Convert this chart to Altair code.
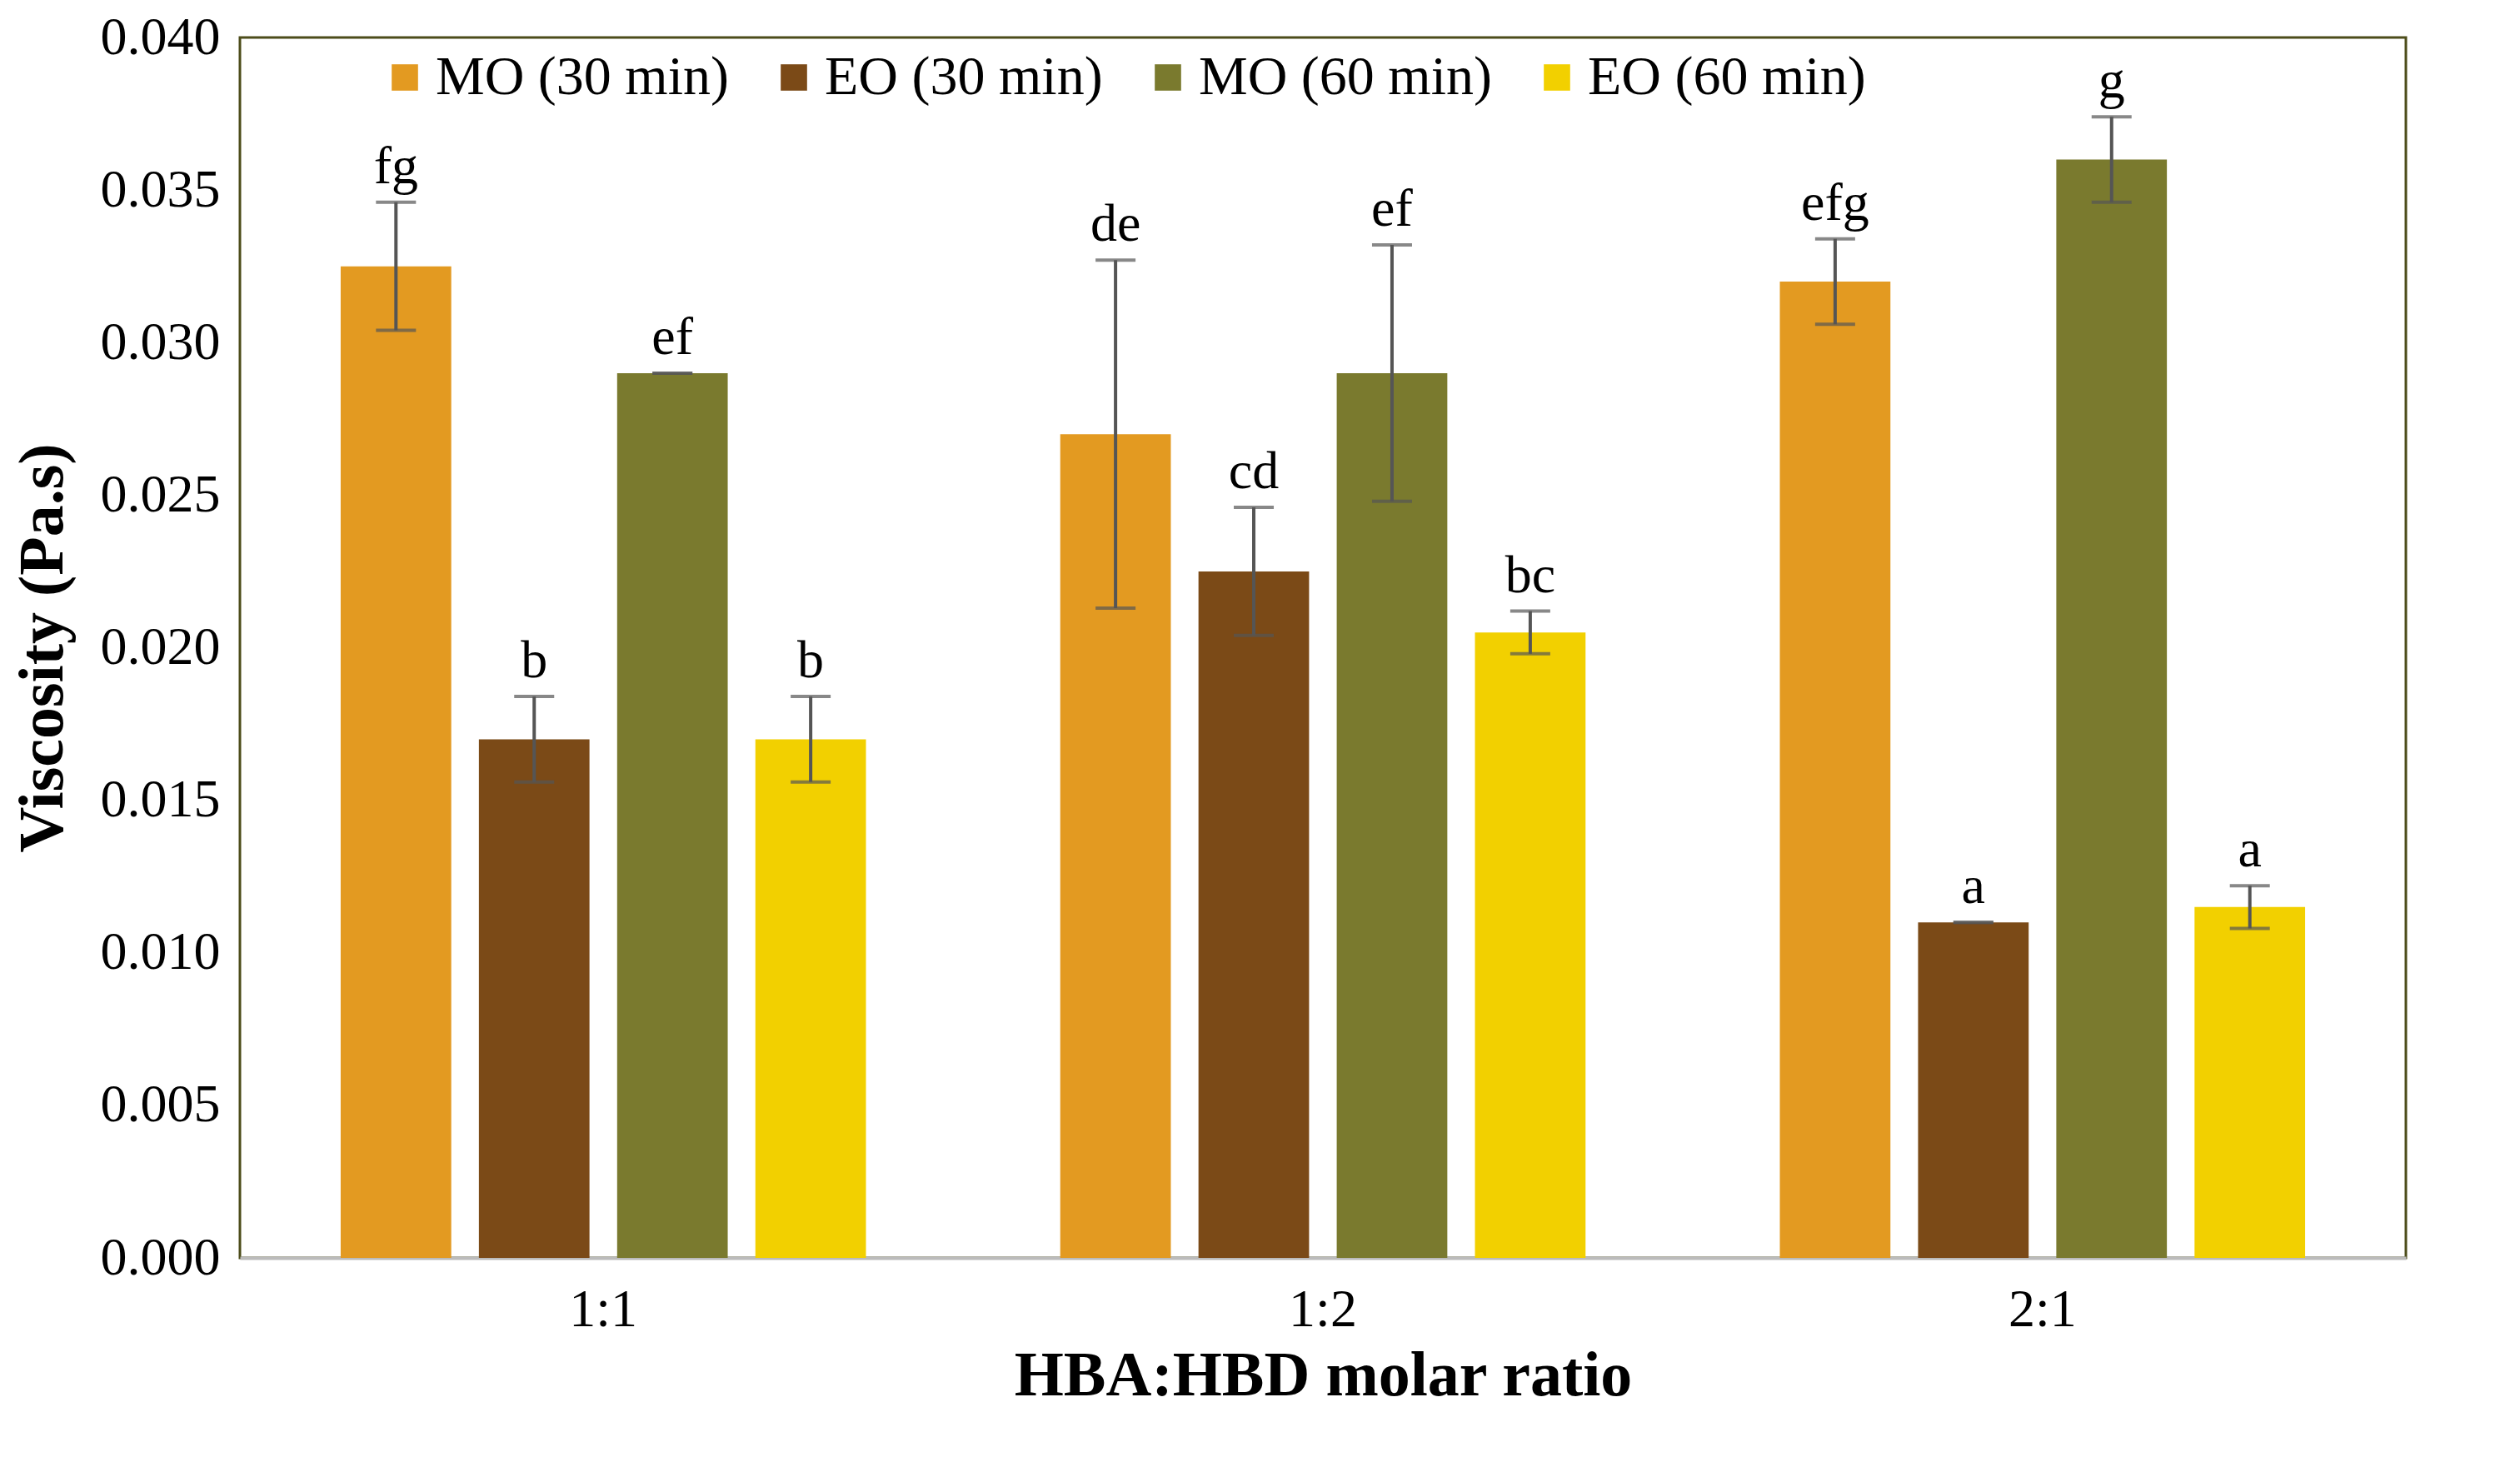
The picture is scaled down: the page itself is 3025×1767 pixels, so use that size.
import altair as alt
import pandas as pd

ratios = ["1:1", "1:2", "2:1"]
series = ["MO (30 min)", "EO (30 min)", "MO (60 min)", "EO (60 min)"]
colors = ["#E39A21", "#7B4A17", "#7A7A2E", "#F2D000"]
values = [
    [0.0325, 0.0170, 0.0290, 0.0170],
    [0.0270, 0.0225, 0.0290, 0.0205],
    [0.0320, 0.0110, 0.0360, 0.0115],
]
errors = [
    [0.0021, 0.0014, 0.0000, 0.0014],
    [0.0057, 0.0021, 0.0042, 0.0007],
    [0.0014, 0.0000, 0.0014, 0.0007],
]
letters = [
    ["fg", "b", "ef", "b"],
    ["de", "cd", "ef", "bc"],
    ["efg", "a", "g", "a"],
]

rows = []
for i, r in enumerate(ratios):
    for j, s in enumerate(series):
        v, e = values[i][j], errors[i][j]
        rows.append({"ratio": r, "series": s, "v": v, "lo": v - e, "hi": v + e,
                     "lab": letters[i][j]})
df = pd.DataFrame(rows)

FONT = "Liberation Serif"
x = alt.X("ratio:N", title="HBA:HBD molar ratio",
          scale=alt.Scale(paddingInner=0.27, paddingOuter=0.14),
          axis=alt.Axis(labelAngle=0, ticks=False, labelPadding=30))
xo = alt.XOffset("series:N", sort=series, scale=alt.Scale(paddingInner=0.2))
yscale = alt.Scale(domain=[0, 0.04])

base = alt.Chart(df)
bars = base.mark_bar().encode(
    x=x, xOffset=xo,
    y=alt.Y("v:Q", title="Viscosity   (Pa.s)", scale=yscale,
            axis=alt.Axis(format=".3f", values=[i * 0.005 for i in range(9)],
                          grid=False, ticks=False, domain=False, labelPadding=24)),
    color=alt.Color("series:N", sort=series,
                    scale=alt.Scale(domain=series, range=colors),
                    legend=alt.Legend(title=None, orient="none", direction="horizontal",
                                      legendX=165, legendY=15, symbolType="square",
                                      symbolSize=1000, labelFontSize=66, labelFont=FONT,
                                      labelLimit=0, columnPadding=45, symbolStrokeWidth=0)),
)
rule = base.mark_rule(color="#555555", strokeWidth=4).encode(
    x=x, xOffset=xo, y=alt.Y("lo:Q", scale=yscale), y2="hi:Q")
cap_hi = base.mark_tick(color="#555555", thickness=4, size=48, orient="horizontal").encode(
    x=x, xOffset=xo, y=alt.Y("hi:Q", scale=yscale))
cap_lo = base.mark_tick(color="#555555", thickness=4, size=48, orient="horizontal").encode(
    x=x, xOffset=xo, y=alt.Y("lo:Q", scale=yscale))
text = base.mark_text(font=FONT, fontSize=64, dy=-10, baseline="bottom", color="black").encode(
    x=x, xOffset=xo, y=alt.Y("hi:Q", scale=yscale), text="lab:N")

chart = alt.layer(bars, rule, cap_hi, cap_lo, text).properties(
    width=2600, height=1465
).configure_view(
    stroke="#4d4d1a", strokeWidth=3
).configure_axis(
    labelFont=FONT, labelFontSize=64, labelColor="black",
    titleFont=FONT, titleFontSize=76, titleFontWeight="bold", titleColor="black",
).configure_axisX(
    domainColor="#bbbbbb", domainWidth=4, titlePadding=10
).configure_axisY(titlePadding=30)

chart.save("out.html", embed_options={"renderer": "svg", "actions": False})
